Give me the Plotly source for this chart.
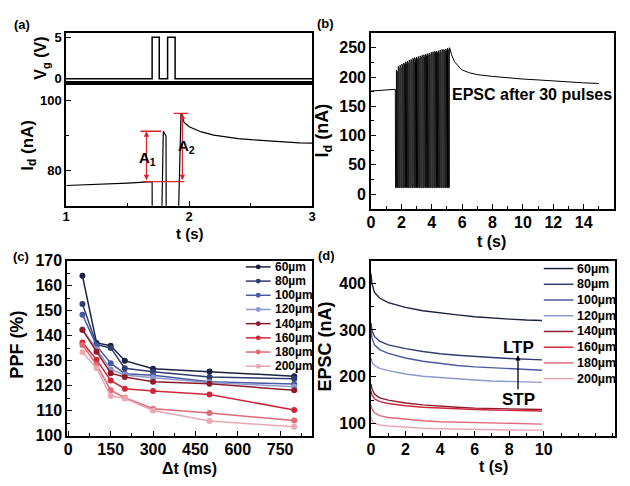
import plotly.graph_objects as go

W, H = 630, 486
FONT = "Liberation Sans, Arial, sans-serif"

# ---------------- data ----------------
# (a) gate pulses and drain current
vg_t = [1.0, 1.699, 1.699, 1.757, 1.757, 1.825, 1.825, 1.886, 1.886, 3.0]
vg_v = [0, 0, 5, 5, 0, 0, 5, 5, 0, 0]
id_t = [1.0, 1.1, 1.2, 1.3, 1.4, 1.5, 1.6, 1.699, 1.700, 1.774, 1.790, 1.812, 1.814,
        1.908, 1.934, 1.96, 2.0, 2.1, 2.2, 2.3, 2.4, 2.5, 2.6, 2.7, 2.8, 2.9, 3.0]
id_v = [75.8, 75.9, 76.1, 76.2, 76.4, 76.5, 76.7, 76.9, 60, 60, 91.3, 90.0, 60,
        60, 96.3, 93.8, 92.6, 91.1, 90.2, 89.6, 89.2, 88.9, 88.6, 88.4, 88.2, 88.0, 87.9]
a_base = 76.9
a1_top = 91.3
a2_top = 96.4

# (b) EPSC after 30 pulses
b_base_t = [0.0, 0.4, 0.8, 1.2, 1.6]
b_base_v = [176, 177, 177.5, 178, 179]
pulse_times = [1.62, 1.74, 1.86, 1.98, 2.10, 2.22, 2.34, 2.46, 2.58, 2.70,
               2.82, 2.94, 3.06, 3.18, 3.30, 3.42, 3.54, 3.66, 3.78, 3.90,
               4.02, 4.14, 4.26, 4.38, 4.50, 4.62, 4.74, 4.86, 4.98, 5.10]
pulse_peaks = [212, 218, 220, 222, 224, 226, 227, 229, 230, 232,
               233, 234, 235, 236, 237, 238, 239, 240, 241, 242,
               243, 244, 244, 245, 246, 247, 247, 248, 249, 250]
pulse_low = 11
pulse_low_dur = 0.055
pulse_droop = 3
b_decay_t = [5.2, 5.3, 5.5, 5.8, 6.0, 6.5, 7, 8, 9, 10, 11, 12, 13, 14, 15]
b_decay_v = [248, 238, 226, 217, 212, 207, 204, 201, 198.5, 196.5, 195, 193, 191.5, 190, 189]

# (c) PPF vs interval
widths = ["60µm", "80µm", "100µm", "120µm", "140µm", "160µm", "180µm", "200µm"]
colors = ["#1b2142", "#303d70", "#4a5aa2", "#8d9acd", "#8e1b2b", "#d0283a", "#df6a76", "#eba8b2"]
dt_ms = [50, 100, 150, 200, 300, 500, 800]
ppf = [
    [163.9, 137.1, 136.0, 130.0, 126.8, 125.7, 123.8],
    [152.6, 136.4, 135.1, 127.0, 125.6, 123.5, 122.8],
    [148.4, 136.0, 129.0, 124.8, 124.2, 121.6, 120.7],
    [142.6, 134.5, 126.5, 124.3, 123.2, 121.3, 119.6],
    [142.3, 133.6, 125.0, 123.5, 121.6, 120.8, 118.2],
    [137.3, 130.4, 122.1, 118.8, 117.9, 116.5, 110.3],
    [136.3, 128.4, 118.2, 115.2, 110.8, 109.1, 106.1],
    [133.4, 127.0, 115.9, 114.9, 110.1, 105.9, 103.6],
]

# (d) EPSC decay
d_t = [0, 0.05, 0.2, 0.5, 1, 2, 3, 4, 5, 6, 7, 8, 9, 9.9]
epsc = [
    [420, 400, 380, 368, 358, 348, 341, 336, 332, 328, 325, 323, 321, 320],
    [315, 300, 286, 276, 268, 260, 254, 249, 246, 243, 241, 239, 237, 236],
    [300, 284, 268, 258, 250, 240, 233, 228, 224, 221, 219, 217, 215, 214],
    [240, 232, 224, 218, 213, 206, 201, 198, 195, 193, 191, 190, 189, 188],
    [185, 175, 163, 155, 150, 144, 140, 137, 135, 133, 132, 131, 130, 130],
    [170, 162, 153, 147, 143, 138, 135, 133, 131, 130, 129, 128, 127.5, 127],
    [140, 132, 123, 117, 113, 109, 106, 104, 103, 102, 101, 100, 99.5, 99],
    [115, 108, 101, 97, 95, 92, 90, 89, 88, 87.5, 87, 86.5, 86, 86],
]

# ---------------- helpers ----------------
def dx(p0, p1):
    return [p0 / W, p1 / W]

def dy(p0, p1):
    return [1 - p1 / H, 1 - p0 / H]

def px(p):
    return p / W

def py(p):
    return 1 - p / H

def axis(domain, rng, anchor, size=16, **kw):
    d = dict(domain=domain, range=rng, anchor=anchor, showline=True, linecolor="black",
             linewidth=1.6, mirror=True, ticks="inside", ticklen=5, tickwidth=1.3,
             tickcolor="black", showgrid=False, zeroline=False,
             tickfont=dict(family=FONT, size=size, color="black", weight="bold"))
    d.update(kw)
    return d

fig = go.Figure()

# (a)
fig.add_trace(go.Scatter(x=vg_t, y=vg_v, mode="lines", line=dict(color="black", width=1.5),
                         xaxis="x", yaxis="y", showlegend=False))
fig.add_trace(go.Scatter(x=id_t, y=id_v, mode="lines", line=dict(color="black", width=1.2),
                         xaxis="x2", yaxis="y2", showlegend=False))

# (b)
bt = list(b_base_t)
bv = list(b_base_v)
for ti, pk in zip(pulse_times, pulse_peaks):
    bt += [ti, ti + pulse_low_dur, ti + pulse_low_dur, ti + 0.11]
    bv += [pulse_low, pulse_low, pk, pk - pulse_droop]
bt[-1] = pulse_times[-1] + pulse_low_dur
bv[-1] = pulse_peaks[-1]
bt += b_decay_t
bv += b_decay_v
fig.add_trace(go.Scatter(x=bt, y=bv, mode="lines", line=dict(color="black", width=1.0),
                         xaxis="x3", yaxis="y3", showlegend=False))

# (c)
for name, col, vals in zip(widths, colors, ppf):
    fig.add_trace(go.Scatter(x=dt_ms, y=vals, mode="lines+markers", name=name,
                             line=dict(color=col, width=1.5),
                             marker=dict(color=col, size=6),
                             xaxis="x4", yaxis="y4", showlegend=False))

# (d)
for name, col, vals in zip(widths, colors, epsc):
    fig.add_trace(go.Scatter(x=d_t, y=vals, mode="lines", name=name,
                             line=dict(color=col, width=1.4),
                             xaxis="x5", yaxis="y5", showlegend=False))

shapes = []
ann = []

def text(x, y, s, size=16, xanchor="center", yanchor="middle", angle=0, xref="paper", yref="paper", color="black"):
    ann.append(dict(x=x, y=y, xref=xref, yref=yref, text=s, showarrow=False,
                    xanchor=xanchor, yanchor=yanchor, textangle=angle,
                    font=dict(family=FONT, size=size, color=color, weight="bold")))

# panel (a) red marks
red = "#e0202a"
for x0, x1, yv in [(1.62, 1.96, a_base), (1.605, 1.774, a1_top), (1.873, 1.993, a2_top)]:
    shapes.append(dict(type="line", xref="x2", yref="y2", x0=x0, x1=x1, y0=yv, y1=yv,
                       line=dict(color=red, width=1.3)))
for xa, ytop in [(1.653, a1_top), (1.945, a2_top)]:
    ann.append(dict(x=xa, y=ytop, ax=xa, ay=a_base, xref="x2", yref="y2", axref="x2", ayref="y2",
                    text="", showarrow=True, arrowhead=2, arrowside="end+start", arrowsize=0.9,
                    arrowwidth=1.2, arrowcolor=red))
text(1.66, 83.4, "A<sub>1</sub>", size=15, xref="x2", yref="y2")
text(1.975, 87.0, "A<sub>2</sub>", size=15, xref="x2", yref="y2")

# panel labels
text(px(18), py(17), "(a)", size=13)
text(px(326), py(16), "(b)", size=13)
text(px(17), py(258), "(c)", size=13)
text(px(327), py(256), "(d)", size=13)

# axis titles
text(px(38), py(52), "V<sub>g</sub> (V)", size=16, angle=-90)
text(px(25), py(142), "I<sub>d</sub> (nA)", size=17, angle=-90)
text(px(188), py(234), "t (s)", size=15)
text(px(324), py(127), "I<sub>d</sub> (nA)", size=18, angle=-90)
text(px(494), py(242), "t (s)", size=16)
text(px(13), py(349), "PPF (%)", size=18, angle=-90)
text(px(188), py(477), "Δt (ms)", size=16)
text(px(325), py(351), "EPSC (nA)", size=18, angle=-90)
text(px(496), py(475), "t (s)", size=16)

# (b) label
text(10.57, 170, "EPSC after 30 pulses", size=16, xref="x3", yref="y3")

# (d) LTP/STP
text(8.55, 262, "LTP", size=17, xref="x5", yref="y5")
text(8.55, 152, "STP", size=17, xref="x5", yref="y5")
ann.append(dict(x=8.51, y=246, ax=8.51, ay=170, xref="x5", yref="y5", axref="x5", ayref="y5",
                text="", showarrow=True, arrowhead=2, arrowsize=0.8, arrowwidth=1.3, arrowcolor="black"))

# manual legends
for i, (name, col) in enumerate(zip(widths, colors)):
    yc = 268.3 + 14.7 * i
    shapes.append(dict(type="line", xref="paper", yref="paper", x0=px(245), x1=px(270),
                       y0=py(yc), y1=py(yc), line=dict(color=col, width=1.5)))
    shapes.append(dict(type="circle", xref="paper", yref="paper", x0=px(255), x1=px(260),
                       y0=py(yc + 2.5), y1=py(yc - 2.5), fillcolor=col, line=dict(color=col, width=0)))
    text(px(272), py(yc), name, size=12, xanchor="left")
    yd = 270 + 16.3 * i
    shapes.append(dict(type="line", xref="paper", yref="paper", x0=px(546.7), x1=px(576.7),
                       y0=py(yd), y1=py(yd), line=dict(color=col, width=1.5)))
    text(px(578), py(yd), name, size=12.5, xanchor="left")

fig.update_layout(
    width=W, height=H, margin=dict(l=0, r=0, t=0, b=0),
    paper_bgcolor="white", plot_bgcolor="white",
    font=dict(family=FONT, color="black", weight="bold"),
    showlegend=False,
    xaxis=axis(dx(63, 312), [1, 3], "y", showticklabels=False, ticks=""),
    yaxis=axis(dy(26, 77.5), [-0.5, 5.5], "x", size=13, tickvals=[0, 5]),
    xaxis2=axis(dx(63, 312), [1, 3], "y2", size=13, dtick=1, ticklabelstandoff=-2,
                minor=dict(dtick=0.5, ticks="inside", ticklen=3, tickcolor="black")),
    yaxis2=axis(dy(78, 205), [70, 105], "x2", size=13, tickvals=[80, 100],
                minor=dict(tickvals=[90], ticks="inside", ticklen=3, tickcolor="black")),
    xaxis3=axis(dx(371.7, 618), [0, 16], "y3", tickvals=[0, 2, 4, 6, 8, 10, 12, 14],
                ticklabelstandoff=-2,
                minor=dict(dtick=1, ticks="inside", ticklen=3, tickcolor="black")),
    yaxis3=axis(dy(26, 208), [-25, 275], "x3", tickvals=[0, 50, 100, 150, 200, 250],
                minor=dict(dtick=25, tick0=0, ticks="inside", ticklen=3, tickcolor="black")),
    xaxis4=axis(dx(64, 311.7), [-4, 862], "y4", size=16, tickvals=[0, 150, 300, 450, 600, 750],
                ticklabelstandoff=-2,
                minor=dict(dtick=75, tick0=0, ticks="inside", ticklen=3, tickcolor="black")),
    yaxis4=axis(dy(261.7, 443.3), [100, 170], "x4", size=16, dtick=10,
                minor=dict(dtick=5, ticks="inside", ticklen=3, tickcolor="black")),
    xaxis5=axis(dx(371.7, 619.3), [0, 14.15], "y5", size=16, tickvals=[0, 2, 4, 6, 8, 10],
                ticklabelstandoff=-2,
                minor=dict(dtick=1, ticks="inside", ticklen=3, tickcolor="black")),
    yaxis5=axis(dy(261.7, 443.3), [74, 448], "x5", size=16, tickvals=[100, 200, 300, 400],
                minor=dict(dtick=50, tick0=0, ticks="inside", ticklen=3, tickcolor="black")),
    shapes=shapes, annotations=ann,
)

fig.write_html("out.html", config={"displayModeBar": False},
               post_script="document.body.style.margin='0';document.body.style.padding='0';")
